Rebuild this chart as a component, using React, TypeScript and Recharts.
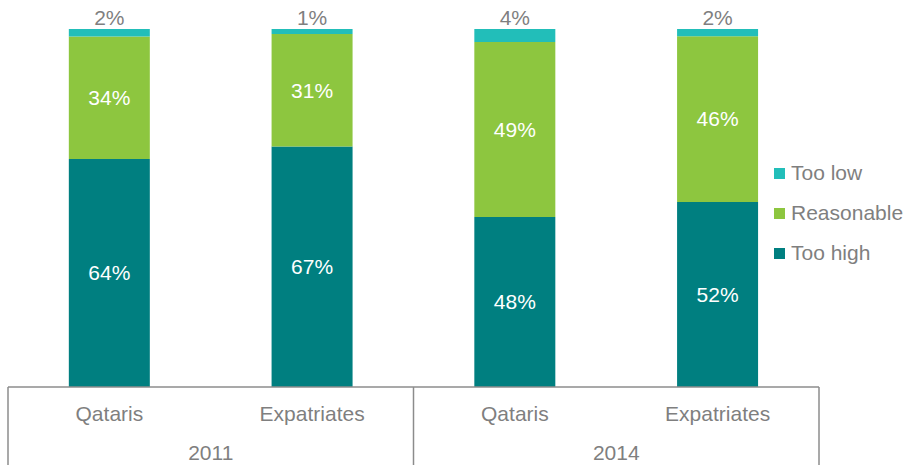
import { BarChart, Bar, XAxis, YAxis, LabelList, Legend } from 'recharts';

// Data (shares in %, labels show rounded values)
const years = ['2011', '2011', '2014', '2014'];
const groups = ['Qataris', 'Expatriates', 'Qataris', 'Expatriates'];
const tooHigh = [63.7, 67.2, 47.5, 51.7];
const reasonable = [34.2, 31.4, 48.9, 46.3];
const tooLow = [2.1, 1.4, 3.6, 2.0];

const seriesNames = ['Too low', 'Reasonable', 'Too high'];

const data = groups.map((name, i) => ({
    name,
    year: years[i],
    tooHigh: tooHigh[i],
    reasonable: reasonable[i],
    tooLow: tooLow[i],
}));

const W = 907;
const H = 465;
const MARGIN = { top: 29, right: 88, left: 8, bottom: 0 };
const AXIS_H = 78;
const PLOT_W = W - MARGIN.left - MARGIN.right;

const C_HIGH = '#007F80';
const C_MID = '#8DC63F';
const C_LOW = '#22BEB9';
const GREY = '#7F7F7F';
const LINE = '#8C8C8C';
const FONT = '"Liberation Sans", Arial, sans-serif';

const pct = (v: any) => `${Math.round(Number(v))}%`;

// Two-level category axis: group label, then year label with box lines
function TwoLevelTick(props: any) {
    const { x, y, payload, index } = props;
    const band = PLOT_W / groups.length;
    const isFirstOfYear = index === 0 || years[index] !== years[index - 1];
    const isLastOfYear = index === years.length - 1 || years[index] !== years[index + 1];
    return (
        <g>
            <text x={x} y={y + 34} textAnchor="middle" fill={GREY} fontSize={21} fontFamily={FONT}>
                {payload.value}
            </text>
            {isFirstOfYear && (
                <>
                    {index === 0 && (
                        <line x1={x - band / 2} x2={x - band / 2} y1={y} y2={y + AXIS_H} stroke={LINE} strokeWidth={1.5} />
                    )}
                    <text x={x + band / 2} y={y + 73} textAnchor="middle" fill={GREY} fontSize={21} fontFamily={FONT}>
                        {years[index]}
                    </text>
                </>
            )}
            {isLastOfYear && (
                <line x1={x + band / 2} x2={x + band / 2} y1={y} y2={y + AXIS_H} stroke={LINE} strokeWidth={1.5} />
            )}
        </g>
    );
}

function LegendBox() {
    const colors = [C_LOW, C_MID, C_HIGH];
    return (
        <div style={{ fontFamily: FONT }}>
            {seriesNames.map((n, i) => (
                <div key={n} style={{ display: 'flex', alignItems: 'center', height: 40 }}>
                    <span style={{ width: 11, height: 11, background: colors[i], display: 'inline-block', marginRight: 6 }} />
                    <span style={{ color: GREY, fontSize: 21 }}>{n}</span>
                </div>
            ))}
        </div>
    );
}

export default function App() {
    return (
        <div style={{ position: 'absolute', left: 0, top: 0, width: W, height: H, background: '#fff' }}>
            <BarChart width={W} height={H} data={data} margin={MARGIN} barCategoryGap="30%">
                <XAxis
                    dataKey="name"
                    height={AXIS_H}
                    interval={0}
                    tickLine={false}
                    tickSize={0}
                    tickMargin={0}
                    axisLine={{ stroke: LINE, strokeWidth: 1.5 }}
                    tick={<TwoLevelTick />}
                />
                <YAxis hide domain={[0, 100]} />
                <Legend
                    layout="vertical"
                    align="center"
                    verticalAlign="middle"
                    content={() => <LegendBox />}
                    wrapperStyle={{ left: 774, top: 153, width: 140 }}
                />
                <Bar dataKey="tooHigh" name="Too high" stackId="a" fill={C_HIGH} isAnimationActive={false}>
                    <LabelList dataKey="tooHigh" position="center" fill="#fff" fontSize={21} fontFamily={FONT} formatter={pct} />
                </Bar>
                <Bar dataKey="reasonable" name="Reasonable" stackId="a" fill={C_MID} isAnimationActive={false}>
                    <LabelList dataKey="reasonable" position="center" fill="#fff" fontSize={21} fontFamily={FONT} formatter={pct} />
                </Bar>
                <Bar dataKey="tooLow" name="Too low" stackId="a" fill={C_LOW} isAnimationActive={false}>
                    <LabelList dataKey="tooLow" position="top" offset={4} fill={GREY} fontSize={21} fontFamily={FONT} formatter={pct} />
                </Bar>
            </BarChart>
        </div>
    );
}
